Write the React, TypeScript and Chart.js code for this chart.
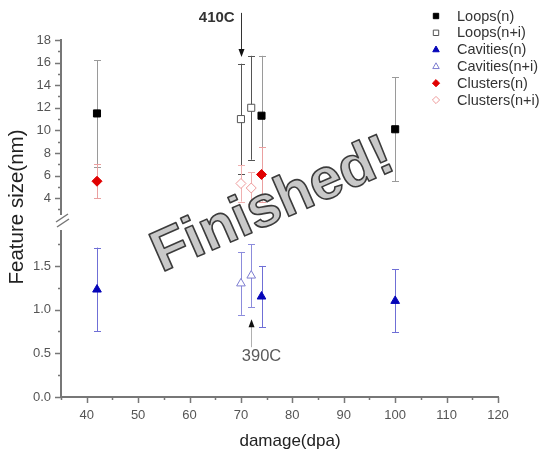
import React, { useEffect, useRef } from 'react';
import { Chart, registerables } from 'chart.js';

Chart.register(...registerables);

// ---------------- data ----------------
const seriesLabels = ['Loops(n)', 'Loops(n+i)', 'Cavities(n)', 'Cavities(n+i)', 'Clusters(n)', 'Clusters(n+i)'];

const loopsNDamage = [42, 74, 100];
const loopsNSize = [11.5, 11.3, 10.1];
const loopsNErr = [4.7, 5.3, 4.6];

const loopsNIDamage = [70, 72];
const loopsNISize = [11.0, 12.0];
const loopsNIErr = [4.9, 4.6];

const cavitiesNDamage = [42, 74, 100];
const cavitiesNSize = [1.23, 1.15, 1.1];
const cavitiesNErr = [0.48, 0.35, 0.36];

const cavitiesNIDamage = [70, 72];
const cavitiesNISize = [1.3, 1.39];
const cavitiesNIErr = [0.36, 0.36];

const clustersNDamage = [42, 74];
const clustersNSize = [5.5, 6.1];
const clustersNErr = [1.5, 2.4];

const clustersNIDamage = [70, 72];
const clustersNISize = [5.3, 4.9];
const clustersNIErr = [1.6, 1.4];

// annotation arrows (data units)
const annotationTexts = ['410C', '390C'];
const annotationDamage = [70, 72];
const annotationFrom = [20.4, 0.57];
const annotationTo = [16.5, 0.89];
const annotationTextDamage = [65.3, 74];
const annotationTextSize = [20.0, 0.46];

const xTitle = 'damage(dpa)';
const yTitle = 'Feature size(nm)';
const watermark = 'Finished!';

const FONT = '"Liberation Sans", Arial, Helvetica, sans-serif';

type Series = {
  label: string;
  xs: number[];
  ys: number[];
  errs: number[];
  axis: string;
  style: string;
  radius: number;
  fill: string;
  stroke: string;
  errColor: string;
};

const series: Series[] = [
  { label: seriesLabels[0], xs: loopsNDamage, ys: loopsNSize, errs: loopsNErr, axis: 'yTop', style: 'rect', radius: 5, fill: '#000000', stroke: '#000000', errColor: '#9a9a9a' },
  { label: seriesLabels[1], xs: loopsNIDamage, ys: loopsNISize, errs: loopsNIErr, axis: 'yTop', style: 'rect', radius: 5, fill: '#ffffff', stroke: '#555555', errColor: '#555555' },
  { label: seriesLabels[2], xs: cavitiesNDamage, ys: cavitiesNSize, errs: cavitiesNErr, axis: 'yBot', style: 'triangle', radius: 5, fill: '#0505b8', stroke: '#0505b8', errColor: '#6f6fd6' },
  { label: seriesLabels[3], xs: cavitiesNIDamage, ys: cavitiesNISize, errs: cavitiesNIErr, axis: 'yBot', style: 'triangle', radius: 5, fill: '#ffffff', stroke: '#7d7dd0', errColor: '#8c8cdc' },
  { label: seriesLabels[4], xs: clustersNDamage, ys: clustersNSize, errs: clustersNErr, axis: 'yTop', style: 'rectRot', radius: 5, fill: '#e00000', stroke: '#e00000', errColor: '#eaa0a0' },
  { label: seriesLabels[5], xs: clustersNIDamage, ys: clustersNISize, errs: clustersNIErr, axis: 'yTop', style: 'rectRot', radius: 5, fill: '#ffffff', stroke: '#ee9a9a', errColor: '#efb0b0' },
];

function drawMarker(ctx: CanvasRenderingContext2D, style: string, x: number, y: number, r: number, fill: string, stroke: string) {
  ctx.save();
  ctx.beginPath();
  if (style === 'rect') {
    const h = r * 0.75;
    ctx.rect(x - h, y - h, 2 * h, 2 * h);
  } else if (style === 'triangle') {
    ctx.moveTo(x, y - r);
    ctx.lineTo(x + r * 0.9, y + r * 0.6);
    ctx.lineTo(x - r * 0.9, y + r * 0.6);
    ctx.closePath();
  } else {
    ctx.moveTo(x, y - r);
    ctx.lineTo(x + r, y);
    ctx.lineTo(x, y + r);
    ctx.lineTo(x - r, y);
    ctx.closePath();
  }
  ctx.fillStyle = fill;
  ctx.fill();
  ctx.strokeStyle = stroke;
  ctx.lineWidth = 1;
  ctx.stroke();
  ctx.restore();
}

const decorPlugin = {
  id: 'decor',
  beforeDatasetsDraw(chart: any) {
    const ctx: CanvasRenderingContext2D = chart.ctx;
    const xs = chart.scales.x;
    ctx.save();
    for (const s of series) {
      const ys = chart.scales[s.axis];
      ctx.strokeStyle = s.errColor;
      ctx.lineWidth = 1;
      s.xs.forEach((xv, i) => {
        const hiV = s.ys[i] + s.errs[i];
        const loV = s.ys[i] - s.errs[i];
        const px = Math.round(xs.getPixelForValue(xv)) + 0.5;
        const top = ys.getPixelForValue(Math.min(hiV, ys.max));
        const bot = ys.getPixelForValue(Math.max(loV, ys.min));
        ctx.beginPath();
        ctx.moveTo(px, top);
        ctx.lineTo(px, bot);
        if (hiV <= ys.max) {
          ctx.moveTo(px - 3.5, Math.round(top) + 0.5);
          ctx.lineTo(px + 3.5, Math.round(top) + 0.5);
        }
        if (loV >= ys.min) {
          ctx.moveTo(px - 3.5, Math.round(bot) + 0.5);
          ctx.lineTo(px + 3.5, Math.round(bot) + 0.5);
        }
        ctx.stroke();
      });
    }
    ctx.restore();
  },
  afterDraw(chart: any) {
    const ctx: CanvasRenderingContext2D = chart.ctx;
    const area = chart.chartArea;
    const xs = chart.scales.x;
    ctx.save();

    // tick marks (major / minor)
    ctx.strokeStyle = '#777777';
    ctx.lineWidth = 1.5;
    for (const id of ['x', 'yTop', 'yBot']) {
      const sc = chart.scales[id];
      sc.ticks.forEach((t: any) => {
        const major = t.label !== '' && t.label !== undefined;
        const len = major ? 6 : 3;
        ctx.beginPath();
        if (id === 'x') {
          const px = Math.round(sc.getPixelForValue(t.value)) + 0.5;
          ctx.moveTo(px, area.bottom);
          ctx.lineTo(px, area.bottom + len);
        } else {
          const py = Math.round(sc.getPixelForValue(t.value)) + 0.5;
          ctx.moveTo(area.left - len, py);
          ctx.lineTo(area.left, py);
        }
        ctx.stroke();
      });
    }

    // axis break symbol
    const gTop = chart.scales.yTop.bottom;
    const gBot = chart.scales.yBot.top;
    const mid = (gTop + gBot) / 2;
    ctx.beginPath();
    ctx.moveTo(area.left - 5, mid - 0.5);
    ctx.lineTo(area.left + 7, mid - 8.5);
    ctx.moveTo(area.left - 4, mid + 4.5);
    ctx.lineTo(area.left + 8, mid - 3.5);
    ctx.stroke();

    // axis titles
    ctx.fillStyle = '#222222';
    ctx.textAlign = 'center';
    ctx.textBaseline = 'middle';
    ctx.font = `17px ${FONT}`;
    ctx.fillText(xTitle, 290, 441);
    ctx.save();
    ctx.translate(17, 207);
    ctx.rotate(-Math.PI / 2);
    ctx.font = `20.5px ${FONT}`;
    ctx.fillText(yTitle, 0, 0);
    ctx.restore();

    // annotations
    annotationTexts.forEach((txt, i) => {
      const sc = i === 0 ? chart.scales.yTop : chart.scales.yBot;
      const px = Math.round(xs.getPixelForValue(annotationDamage[i])) + 0.5;
      const y0 = sc.getPixelForValue(annotationFrom[i]);
      const y1 = sc.getPixelForValue(annotationTo[i]);
      const dir = y1 > y0 ? 1 : -1;
      ctx.strokeStyle = i === 0 ? '#333333' : '#b0b0b0';
      ctx.lineWidth = 1;
      ctx.beginPath();
      ctx.moveTo(px, y0);
      ctx.lineTo(px, y1 - dir * 6);
      ctx.stroke();
      ctx.fillStyle = '#111111';
      ctx.beginPath();
      ctx.moveTo(px, y1);
      ctx.lineTo(px - 3, y1 - dir * 8);
      ctx.lineTo(px + 3, y1 - dir * 8);
      ctx.closePath();
      ctx.fill();
      ctx.fillStyle = i === 0 ? '#333333' : '#5a5a5a';
      ctx.font = i === 0 ? `bold 15px ${FONT}` : `16.5px ${FONT}`;
      ctx.textAlign = 'center';
      ctx.textBaseline = 'middle';
      ctx.fillText(txt, xs.getPixelForValue(annotationTextDamage[i]), sc.getPixelForValue(annotationTextSize[i]));
    });

    // legend
    series.forEach((s, i) => {
      const ly = 16 + i * 16.8;
      drawMarker(ctx, s.style, 436, ly, 3.6, s.fill, s.stroke);
      ctx.fillStyle = '#333333';
      ctx.font = `14.5px ${FONT}`;
      ctx.textAlign = 'left';
      ctx.textBaseline = 'middle';
      ctx.fillText(s.label, 457, ly + 0.5);
    });

    // watermark
    ctx.save();
    ctx.translate(273, 206);
    ctx.rotate(-0.414);
    ctx.font = `bold 58px ${FONT}`;
    ctx.textAlign = 'center';
    ctx.textBaseline = 'middle';
    ctx.lineJoin = 'round';
    ctx.fillStyle = '#c9c9c9';
    ctx.fillText(watermark, 0, 0);
    ctx.strokeStyle = '#3c3c3c';
    ctx.lineWidth = 1.6;
    ctx.strokeText(watermark, 0, 0);
    ctx.restore();

    ctx.restore();
  },
};

const tickFont = { family: FONT, size: 13 };

export default function App() {
  const ref = useRef<HTMLCanvasElement | null>(null);

  useEffect(() => {
    document.body.style.margin = '0';
    const canvas = ref.current;
    if (!canvas) return;
    const chart = new Chart(canvas, {
      type: 'scatter',
      data: {
        datasets: series.map((s) => ({
          label: s.label,
          data: s.xs.map((x, i) => ({ x, y: s.ys[i] })),
          xAxisID: 'x',
          yAxisID: s.axis,
          pointStyle: s.style as any,
          pointRadius: s.radius,
          pointHoverRadius: s.radius,
          pointBackgroundColor: s.fill,
          pointBorderColor: s.stroke,
          pointBorderWidth: 1,
          showLine: false,
        })),
      },
      options: {
        responsive: false,
        animation: false,
        events: [],
        layout: { padding: { left: 8, top: 40, right: 52, bottom: 35 } },
        plugins: { legend: { display: false }, tooltip: { enabled: false }, title: { display: false } },
        scales: {
          x: {
            type: 'linear',
            position: 'bottom',
            min: 35,
            max: 120,
            grid: { display: false, drawTicks: false },
            border: { display: true, color: '#777777', width: 2 },
            ticks: {
              stepSize: 5,
              includeBounds: false,
              autoSkip: false,
              maxRotation: 0,
              padding: 11,
              color: '#555555',
              font: tickFont,
              callback: (v: any) => (Number(v) % 10 === 0 ? String(v) : ''),
            },
            afterFit: (s: any) => {
              s.height = 30;
            },
          },
          yTop: {
            type: 'linear',
            position: 'left',
            stack: 'ystack',
            stackWeight: 174,
            weight: 3,
            min: 2.6,
            max: 18,
            grid: { display: false, drawTicks: false },
            border: { display: true, color: '#777777', width: 2 },
            ticks: {
              stepSize: 1,
              includeBounds: false,
              autoSkip: false,
              padding: 10,
              color: '#555555',
              font: tickFont,
              callback: (v: any) => (Number(v) >= 4 && Number(v) % 2 === 0 ? String(v) : ''),
            },
            afterFit: (s: any) => {
              s.width = 53;
            },
          },
          yGap: {
            type: 'linear',
            position: 'left',
            stack: 'ystack',
            stackWeight: 17,
            weight: 2,
            min: 0,
            max: 1,
            grid: { display: false, drawTicks: false },
            border: { display: false },
            ticks: { display: false },
            afterFit: (s: any) => {
              s.width = 53;
            },
          },
          yBot: {
            type: 'linear',
            position: 'left',
            stack: 'ystack',
            stackWeight: 166,
            weight: 1,
            min: 0,
            max: 1.9,
            grid: { display: false, drawTicks: false },
            border: { display: true, color: '#777777', width: 2 },
            ticks: {
              stepSize: 0.25,
              includeBounds: false,
              autoSkip: false,
              padding: 10,
              color: '#555555',
              font: tickFont,
              callback: (v: any) => {
                const n = Number(v);
                return Math.abs(n * 2 - Math.round(n * 2)) < 1e-6 ? n.toFixed(1) : '';
              },
            },
            afterFit: (s: any) => {
              s.width = 53;
            },
          },
        },
      } as any,
      plugins: [decorPlugin],
    });
    return () => chart.destroy();
  }, []);

  return (
    <div style={{ width: 550, height: 462, background: '#ffffff' }}>
      <canvas ref={ref} width={550} height={462} style={{ display: 'block' }} />
    </div>
  );
}
